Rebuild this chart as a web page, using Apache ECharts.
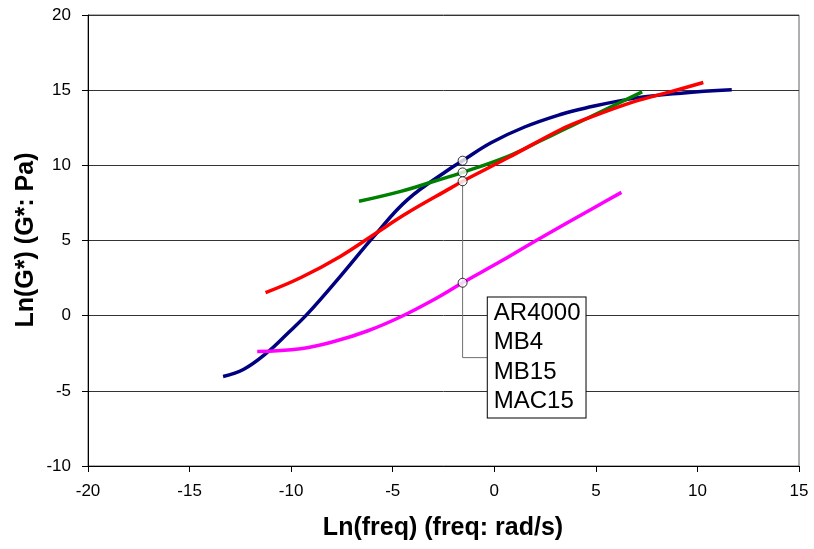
<!DOCTYPE html>
<html>
<head>
<meta charset="utf-8">
<script src="https://cdn.jsdelivr.net/npm/echarts@6/dist/echarts.min.js"></script>
<style>
  html, body { margin: 0; padding: 0; background: #fff; }
  #chart { width: 814px; height: 549px; }
</style>
</head>
<body>
<div id="chart"></div>
<script>
// series names (as listed in the callout box)
const seriesNames = ['AR4000', 'MB4', 'MB15', 'MAC15']
const seriesColors = ['#000080', '#008000', '#FF0000', '#FF00FF']

// Ln(freq), Ln(G*) pairs
const ar4000 = [
  [-13.35, -4.05], [-12.33, -3.56], [-11.18, -2.45], [-10.19, -1.2], [-9.21, 0.1],
  [-7.56, 2.65], [-5.92, 5.29], [-4.27, 7.72], [-2.13, 9.82], [-1.56, 10.31],
  [-0.16, 11.5], [1.49, 12.55], [3.3, 13.4], [4.45, 13.8], [6.92, 14.47],
  [9.2, 14.8], [11.69, 15.02]
]
const mb4 = [
  [-6.66, 7.61], [-4.6, 8.27], [-2.96, 8.94], [-1.56, 9.53], [0.67, 10.6],
  [2.31, 11.65], [3.3, 12.3], [4.45, 13.05], [7.28, 14.89]
]
const mb15 = [
  [-11.26, 1.53], [-9.54, 2.52], [-7.56, 3.96], [-5.92, 5.4], [-4.27, 6.84],
  [-2.13, 8.5], [-1.56, 8.94], [0.67, 10.5], [3.3, 12.4], [4.45, 13.05],
  [6.92, 14.25], [8.56, 14.85], [10.29, 15.51]
]
const mac15 = [
  [-11.67, -2.39], [-9.54, -2.2], [-7.89, -1.72], [-6.25, -1.02], [-4.6, -0.07],
  [-2.96, 1.08], [-1.56, 2.19], [0.34, 3.63], [2.15, 5.07], [5.0, 7.25], [6.26, 8.2]
]
const curves = [ar4000, mb4, mb15, mac15]

// labelled point and callout leader
const markX = -1.56
const leaderElbowY = -2.79
const boxX = -0.32

const fontFamily = "'Liberation Sans', Arial, sans-serif"

const chart = echarts.init(document.getElementById('chart'))

// marker points = value of each curve at markX
const markerData = curves.map(c => c.find(p => p[0] === markX))
const leaderTop = Math.min(...markerData.map(p => p[1]).filter(v => v > 5))

const series = curves.map((c, i) => ({
  name: seriesNames[i],
  type: 'line',
  data: c,
  smooth: 0.4,
  showSymbol: false,
  symbol: 'none',
  lineStyle: { color: seriesColors[i], width: 3.5 },
  z: 3
}))

// leader line of the callout
series.push({
  name: 'leader',
  type: 'line',
  data: [[markX, leaderTop], [markX, leaderElbowY], [boxX, leaderElbowY]],
  symbol: 'none',
  lineStyle: { color: '#707070', width: 1 },
  z: 4
})

series.push({
  name: 'markers',
  type: 'scatter',
  data: markerData,
  symbol: 'circle',
  symbolSize: 9,
  itemStyle: { color: '#fff', borderColor: '#000', borderWidth: 1 },
  z: 5
})

const axisTitles = [
  {
    type: 'text',
    x: 26,
    y: 240,
    rotation: Math.PI / 2,
    style: {
      text: 'Ln(G*) (G*: Pa)',
      font: 'bold 25px ' + fontFamily,
      fill: '#000',
      align: 'center',
      verticalAlign: 'middle'
    }
  },
  {
    type: 'text',
    x: 443,
    y: 528,
    style: {
      text: 'Ln(freq) (freq: rad/s)',
      font: 'bold 25px ' + fontFamily,
      fill: '#000',
      align: 'center',
      verticalAlign: 'middle'
    }
  }
]

const option = {
  animation: false,
  backgroundColor: '#fff',
  grid: {
    left: 88,
    right: 15,
    top: 15,
    bottom: 83,
    show: true,
    borderColor: '#606060',
    borderWidth: 1
  },
  xAxis: {
    type: 'value',
    min: -20,
    max: 15,
    interval: 5,
    axisLine: { onZero: false, lineStyle: { color: '#000', width: 1 } },
    axisTick: { show: true, inside: false, length: 6, lineStyle: { color: '#000' } },
    axisLabel: { fontFamily: fontFamily, fontSize: 17, color: '#000', margin: 17 },
    splitLine: { show: false }
  },
  yAxis: {
    type: 'value',
    min: -10,
    max: 20,
    interval: 5,
    axisLine: { show: true, onZero: false, lineStyle: { color: '#000', width: 1 } },
    axisTick: { show: true, inside: false, length: 6, lineStyle: { color: '#000' } },
    axisLabel: { fontFamily: fontFamily, fontSize: 17, color: '#000', margin: 17 },
    splitLine: { show: true, lineStyle: { color: '#333', width: 1 } }
  },
  graphic: axisTitles,
  series: series
}

chart.setOption(option)

// callout box, anchored at the end of the leader line
const anchor = chart.convertToPixel({ gridIndex: 0 }, [boxX, leaderElbowY])
chart.setOption({
  graphic: axisTitles.concat([{
    type: 'text',
    x: anchor[0],
    y: anchor[1],
    z: 100,
    style: {
      text: seriesNames.join('\n'),
      font: '24px ' + fontFamily,
      fill: '#000',
      lineHeight: 29.5,
      align: 'left',
      verticalAlign: 'middle',
      backgroundColor: '#fff',
      borderColor: '#000',
      borderWidth: 1,
      padding: [1, 5, 1, 6]
    }
  }])
})
</script>
</body>
</html>
